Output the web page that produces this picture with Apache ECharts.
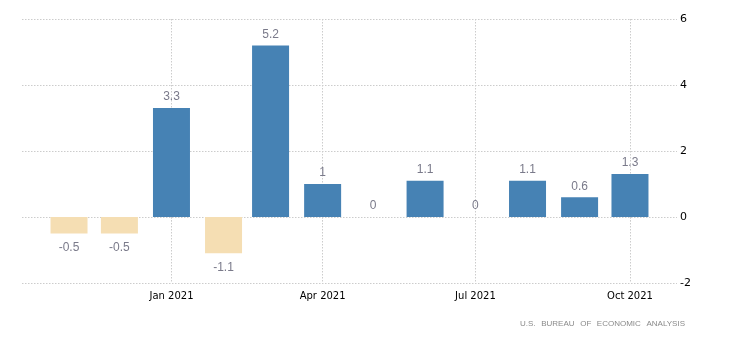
<!DOCTYPE html>
<html>
<head>
<meta charset="utf-8">
<script src="https://cdn.jsdelivr.net/npm/echarts@6/dist/echarts.min.js"></script>
<style>
html,body{margin:0;padding:0;background:#fff;}
#chart{width:730px;height:346px;}
</style>
</head>
<body>
<div id="chart"></div>
<script>
const months = ['2020-11-01','2020-12-01','2021-01-01','2021-02-01','2021-03-01','2021-04-01','2021-05-01','2021-06-01','2021-07-01','2021-08-01','2021-09-01','2021-10-01'];
const values = [-0.5, -0.5, 3.3, -1.1, 5.2, 1, 0, 1.1, 0, 1.1, 0.6, 1.3];
const tickDates = ['2021-01-01','2021-04-01','2021-07-01','2021-10-01'];
const yTicks = [-2, 0, 2, 4, 6];
const sourceText = 'U.S. BUREAU OF ECONOMIC ANALYSIS';

const ts = d => { const p = d.split('-').map(Number); return Date.UTC(p[0], p[1]-1, p[2]); };
const monthNames = ['Jan','Feb','Mar','Apr','May','Jun','Jul','Aug','Sep','Oct','Nov','Dec'];

const chart = echarts.init(document.getElementById('chart'), null, {renderer:'canvas'});
const gridLine = {show:true, lineStyle:{color:'#cccccc', type:[1.5,1.5], width:1}};

chart.setOption({
  animation:false,
  grid:{left:22, right:53, top:19, bottom:63},
  xAxis:{
    type:'value',
    min: ts('2020-10-04'),
    max: ts('2021-10-29'),
    axisLine:{show:false},
    axisTick:{show:true, length:5, customValues: tickDates.map(ts), lineStyle:{color:'#cccccc', type:[1.5,1.5]}},
    splitLine: gridLine,
    axisLabel:{
      customValues: tickDates.map(ts),
      color:'#000', fontFamily:'DejaVu Sans', fontSize:10, margin:8,
      formatter: v => { const d = new Date(v); return monthNames[d.getUTCMonth()] + ' ' + d.getUTCFullYear(); }
    }
  },
  yAxis:{
    type:'value', position:'right',
    min: yTicks[0], max: yTicks[yTicks.length-1], interval:2,
    axisLine:{show:false}, axisTick:{show:false},
    splitLine: gridLine,
    axisLabel:{color:'#000', fontFamily:'DejaVu Sans', fontSize:11, margin:3}
  },
  graphic:[{
    type:'text', right:45, top:320,
    style:{text: sourceText.split(' ').join('\u2002\u2009'), fill:'#8a8a8a', font:'8px "Liberation Sans"'}
  }],
  series:[{
    type:'bar',
    barWidth:37,
    data: months.map((m,i) => ({
      value:[ts(m), values[i]],
      itemStyle:{color: values[i] < 0 ? '#f5deb3' : '#4682b4'},
      label:{position: values[i] < 0 ? 'bottom' : 'top', distance: values[i] < 0 ? 8 : 5}
    })),
    label:{
      show:true, color:'#7a7a8a', fontFamily:'Liberation Sans', fontSize:12,
      formatter: p => String(p.value[1])
    }
  }]
});
</script>
</body>
</html>
